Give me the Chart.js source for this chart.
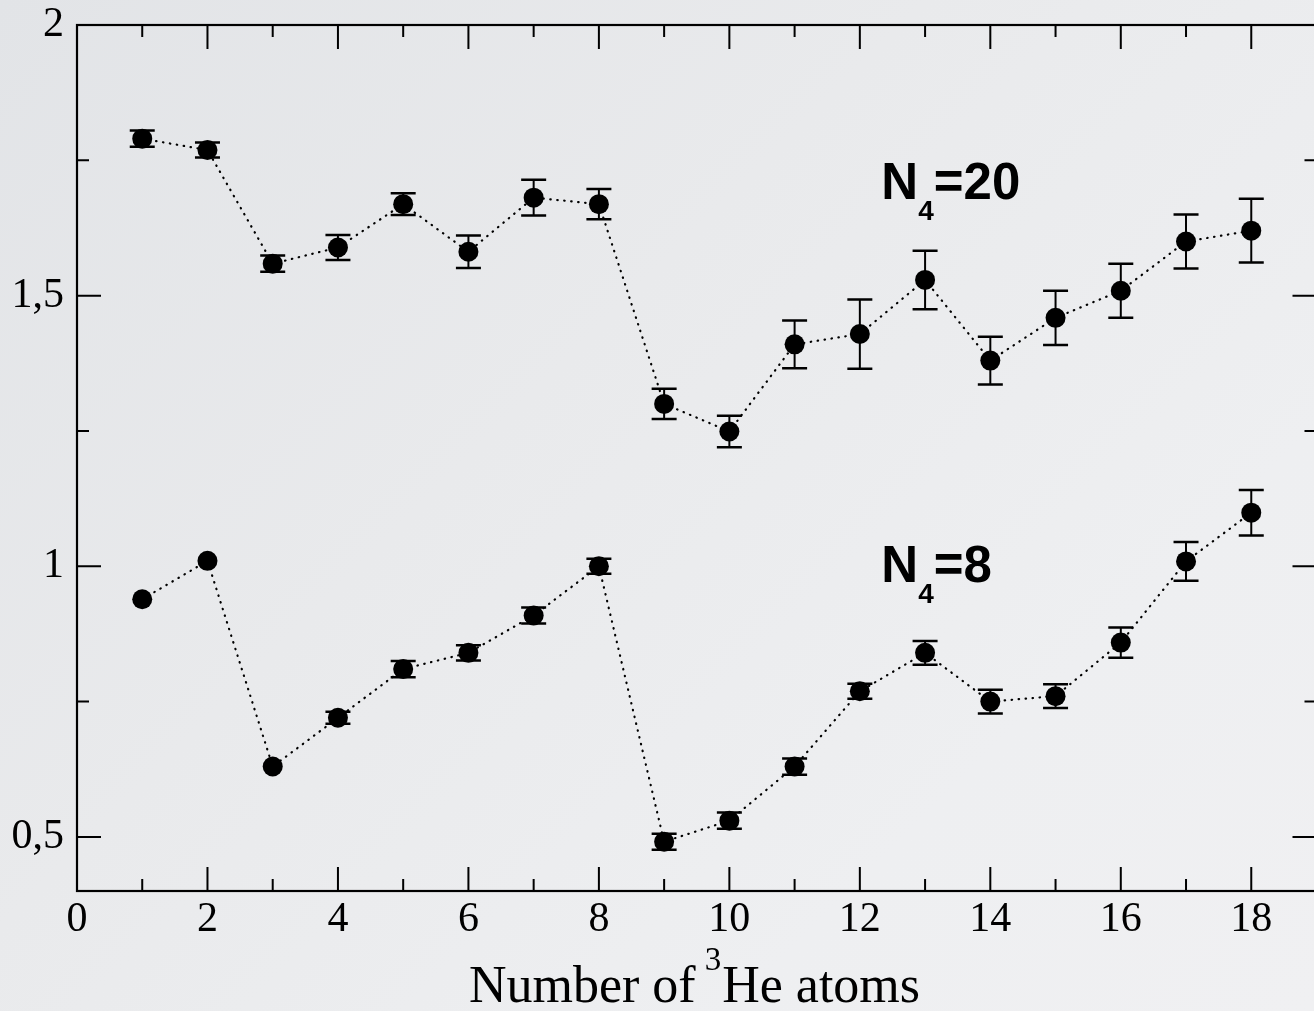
<!DOCTYPE html>
<html>
<head>
<meta charset="utf-8">
<script src="https://cdn.jsdelivr.net/npm/chart.js@4.4.1/dist/chart.umd.min.js"></script>
<style>
  html, body { margin: 0; padding: 0; width: 1314px; height: 1011px; overflow: hidden; }
  body { background: linear-gradient(135deg, #e2e4e7 0%, #e9eaec 40%, #eeeff1 75%, #f0f0f2 100%); }
  #wrap { position: absolute; left: 0; top: 0; width: 1340px; height: 1011px; }
</style>
</head>
<body>
<div id="wrap"><canvas id="chart" width="1340" height="1011"></canvas></div>
<script>
// Number of 3He atoms
const nHe3 = [1, 2, 3, 4, 5, 6, 7, 8, 9, 10, 11, 12, 13, 14, 15, 16, 17, 18];

// N4 = 20 cluster
const n20Values = [1.790, 1.769, 1.559, 1.589, 1.669, 1.581, 1.681, 1.669, 1.300,
                   1.249, 1.410, 1.429, 1.529, 1.380, 1.459, 1.509, 1.600, 1.620];
const n20Errors = [0.015, 0.014, 0.015, 0.023, 0.020, 0.030, 0.033, 0.028, 0.028,
                   0.029, 0.044, 0.064, 0.054, 0.044, 0.050, 0.050, 0.050, 0.059];

// N4 = 8 cluster
const n8Values = [0.939, 1.010, 0.630, 0.720, 0.810, 0.840, 0.909, 1.000, 0.491,
                  0.530, 0.630, 0.769, 0.840, 0.750, 0.760, 0.859, 1.009, 1.099];
const n8Errors = [0, 0, 0, 0.011, 0.015, 0.014, 0.015, 0.014, 0.015,
                  0.015, 0.015, 0.014, 0.022, 0.022, 0.022, 0.028, 0.036, 0.042];

// Axis ticks
const xTickValues = [0, 2, 4, 6, 8, 10, 12, 14, 16, 18];
const xTickLabels = ['0', '2', '4', '6', '8', '10', '12', '14', '16', '18'];
const yTickValues = [0.5, 1, 1.5, 2];
const yTickLabels = ['0,5', '1', '1,5', '2'];

const SERIF = '"Liberation Serif", "Times New Roman", serif';
const SANS = '"Liberation Sans", Arial, sans-serif';

// Error bars with caps, drawn beneath the markers
const errorBars = {
  id: 'errorBars',
  beforeDatasetsDraw(chart) {
    const { ctx, scales: { x, y } } = chart;
    ctx.save();
    ctx.strokeStyle = '#000';
    chart.data.datasets.forEach(ds => {
      ds.data.forEach((p, i) => {
        const e = ds.errors[i];
        if (!e) return;
        const px = x.getPixelForValue(p.x);
        const top = y.getPixelForValue(p.y + e);
        const bot = y.getPixelForValue(p.y - e);
        ctx.lineWidth = 2;
        ctx.beginPath();
        ctx.moveTo(px, top); ctx.lineTo(px, bot);
        ctx.stroke();
        ctx.lineWidth = 2.5;
        ctx.beginPath();
        ctx.moveTo(px - 12.5, top); ctx.lineTo(px + 12.5, top);
        ctx.moveTo(px - 12.5, bot); ctx.lineTo(px + 12.5, bot);
        ctx.stroke();
      });
    });
    ctx.restore();
  }
};

// Box frame with inward major/minor ticks on all four sides, plus annotations
const frameAndText = {
  id: 'frameAndText',
  afterDraw(chart) {
    const { ctx, chartArea: a, scales: { x, y } } = chart;
    ctx.save();
    ctx.strokeStyle = '#000';
    ctx.lineWidth = 2.2;
    ctx.strokeRect(a.left, a.top, a.right - a.left, a.bottom - a.top);

    const MAJ = 24, MIN = 12;
    ctx.lineWidth = 2;
    ctx.beginPath();
    const xMaj = x.ticks.map(t => t.value);
    const xMin = [];
    xMaj.forEach((v, i) => {
      const next = i + 1 < xMaj.length ? xMaj[i + 1] : v + (xMaj[1] - xMaj[0]);
      const m = (v + next) / 2;
      if (m < x.max) xMin.push(m);
    });
    xMaj.forEach(v => {
      const px = x.getPixelForValue(v);
      ctx.moveTo(px, a.bottom); ctx.lineTo(px, a.bottom - MAJ);
      ctx.moveTo(px, a.top); ctx.lineTo(px, a.top + MAJ);
    });
    xMin.forEach(v => {
      const px = x.getPixelForValue(v);
      ctx.moveTo(px, a.bottom); ctx.lineTo(px, a.bottom - MIN);
      ctx.moveTo(px, a.top); ctx.lineTo(px, a.top + MIN);
    });
    const yMaj = y.ticks.map(t => t.value);
    const yMin = [];
    yMaj.forEach((v, i) => {
      if (i + 1 < yMaj.length) yMin.push((v + yMaj[i + 1]) / 2);
    });
    yMaj.forEach(v => {
      const py = y.getPixelForValue(v);
      ctx.moveTo(a.left, py); ctx.lineTo(a.left + MAJ, py);
      ctx.moveTo(a.right, py); ctx.lineTo(a.right - MAJ, py);
    });
    yMin.forEach(v => {
      const py = y.getPixelForValue(v);
      ctx.moveTo(a.left, py); ctx.lineTo(a.left + MIN, py);
      ctx.moveTo(a.right, py); ctx.lineTo(a.right - MIN, py);
    });
    ctx.stroke();

    // x-axis title with superscript mass number
    ctx.fillStyle = '#000';
    ctx.textBaseline = 'alphabetic';
    ctx.textAlign = 'left';
    const big = '52px ' + SERIF, small = '33px ' + SERIF;
    const p1 = 'Number of ', p2 = '3', p3 = 'He atoms';
    ctx.font = big; const w1 = ctx.measureText(p1).width, w3 = ctx.measureText(p3).width;
    ctx.font = small; const w2 = ctx.measureText(p2).width;
    let tx = 696 - (w1 + w2 + w3) / 2;
    const base = 1002;
    ctx.font = big; ctx.fillText(p1, tx, base); tx += w1 - 4;
    ctx.font = small; ctx.fillText(p2, tx, base - 32); tx += w2 + 1;
    ctx.font = big; ctx.fillText(p3, tx, base);

    // series labels N4=20 and N4=8
    const label = (xv, yv, sub, rest) => {
      let lx = x.getPixelForValue(xv);
      const ly = y.getPixelForValue(yv);
      ctx.font = 'bold 51px ' + SANS;
      ctx.fillText('N', lx, ly); lx += ctx.measureText('N').width;
      ctx.font = 'bold 28px ' + SANS;
      ctx.fillText(sub, lx, ly + 21); lx += ctx.measureText(sub).width;
      ctx.font = 'bold 51px ' + SANS;
      ctx.fillText(rest, lx, ly);
    };
    label(12.33, 1.679, '4', '=20');
    label(12.33, 0.971, '4', '=8');
    ctx.restore();
  }
};

const lineStyle = {
  type: 'line',
  showLine: true,
  borderColor: '#000',
  borderWidth: 2.2,
  borderDash: [0.5, 6.5],
  borderCapStyle: 'round',
  tension: 0,
  pointRadius: 10,
  pointHoverRadius: 10,
  pointBackgroundColor: '#000',
  pointBorderWidth: 0,
  clip: false
};

new Chart(document.getElementById('chart'), {
  type: 'line',
  data: {
    datasets: [
      Object.assign({ label: 'N4=20', data: nHe3.map((n, i) => ({ x: n, y: n20Values[i] })), errors: n20Errors }, lineStyle),
      Object.assign({ label: 'N4=8', data: nHe3.map((n, i) => ({ x: n, y: n8Values[i] })), errors: n8Errors }, lineStyle)
    ]
  },
  options: {
    responsive: false,
    animation: false,
    devicePixelRatio: 1,
    layout: { padding: { top: 25, right: 23.5, left: 0, bottom: 0 } },
    plugins: { legend: { display: false }, tooltip: { enabled: false } },
    scales: {
      x: {
        type: 'linear',
        min: 0, max: 19,
        afterBuildTicks: s => { s.ticks = xTickValues.map(v => ({ value: v })); },
        afterFit: s => { s.height = 120; s.paddingLeft = 0; s.paddingRight = 0; },
        grid: { display: false, drawTicks: false },
        border: { display: false },
        ticks: {
          color: '#000', padding: 4, maxRotation: 0, autoSkip: false,
          font: { family: SERIF, size: 42 },
          callback: (v, i) => xTickLabels[i]
        }
      },
      y: {
        type: 'linear',
        min: 0.4, max: 2,
        afterBuildTicks: s => { s.ticks = yTickValues.map(v => ({ value: v })); },
        afterFit: s => { s.width = 77; s.paddingTop = 0; s.paddingBottom = 0; },
        grid: { display: false, drawTicks: false },
        border: { display: false },
        ticks: {
          color: '#000', padding: 13, autoSkip: false,
          font: { family: SERIF, size: 42 },
          callback: (v, i) => yTickLabels[i]
        }
      }
    }
  },
  plugins: [errorBars, frameAndText]
});
</script>
</body>
</html>
